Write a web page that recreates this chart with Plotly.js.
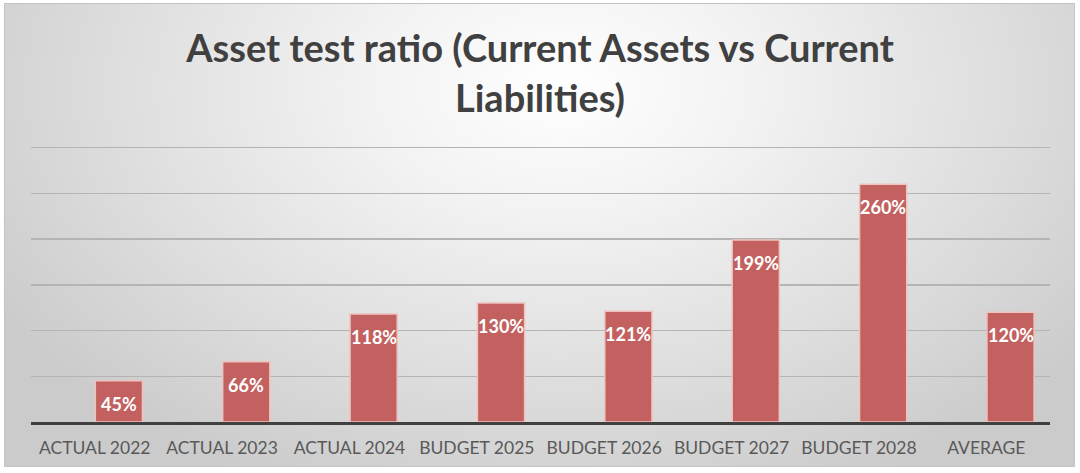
<!DOCTYPE html>
<html>
<head>
<meta charset="utf-8">
<script src="https://cdn.plot.ly/plotly-3.0.1.min.js"></script>
<style>
  html, body { margin: 0; padding: 0; background: #ffffff; }
  #frame {
    position: absolute; left: 4px; top: 3px; width: 1071px; height: 464px;
    border: 1px solid #c4c4c4; box-sizing: border-box;
    background: radial-gradient(ellipse 62% 95% at 52% 18%, #ffffff 0%, #f2f2f2 30%, #dfdfdf 65%, #cbcbcb 100%);
  }
  #chart { position: absolute; left: 0; top: 0; width: 1080px; height: 473px; }
</style>
</head>
<body>
<div id="frame"></div>
<div id="chart"></div>
<script>
const categories = ["ACTUAL 2022", "ACTUAL 2023", "ACTUAL 2024", "BUDGET 2025", "BUDGET 2026", "BUDGET 2027", "BUDGET 2028", "AVERAGE"];
const ratioValues = [45, 66, 118, 130, 121, 199, 260, 120];
const valueLabels = ratioValues.map(v => v + "%");
const chartTitle = "Asset test ratio (Current Assets vs Current<br>Liabilities)";

// bars sit slightly right of their category label, as in the source image
const barWidth = 0.37;
const barOffset = 0.005;

const trace = {
  type: "bar",
  x: categories,
  y: ratioValues,
  width: barWidth,
  offset: barOffset,
  marker: { color: "#C2615F", line: { color: "#F0C2BE", width: 1.5 } },
  hoverinfo: "skip"
};

const annotations = categories.map((c, i) => ({
  x: i + barOffset + barWidth / 2, y: ratioValues[i], xref: "x", yref: "y",
  text: "<b>" + valueLabels[i] + "</b>",
  showarrow: false, xanchor: "center", yanchor: "middle", yshift: -23,
  font: { family: "Lato, 'Open Sans', sans-serif", size: 18, color: "#ffffff" }
}));

const layout = {
  width: 1080, height: 473,
  paper_bgcolor: "rgba(0,0,0,0)", plot_bgcolor: "rgba(0,0,0,0)",
  margin: { l: 31, r: 30, t: 143, b: 51, pad: 0 },
  title: {
    text: "<b>" + chartTitle + "</b>",
    font: { family: "Lato, 'Open Sans', sans-serif", size: 38, color: "#404040" },
    x: 0.5, xanchor: "center", y: 0.868, yanchor: "middle"
  },
  showlegend: false,
  xaxis: {
    type: "category",
    range: [-0.5, 7.5],
    showline: true, linecolor: "#404040", linewidth: 2.5,
    showgrid: false, ticks: "",
    tickfont: { family: "Lato, 'Open Sans', sans-serif", size: 17.5, color: "#595959" },
    ticklabelstandoff: 8
  },
  yaxis: {
    range: [0, 305], dtick: 50, tick0: 0,
    showticklabels: false, ticks: "",
    showgrid: true, gridcolor: "#b4b4b4", gridwidth: 1.5,
    zeroline: false, showline: false
  },
  annotations: annotations
};

Plotly.newPlot("chart", [trace], layout, { displayModeBar: false, staticPlot: true });
</script>
</body>
</html>
